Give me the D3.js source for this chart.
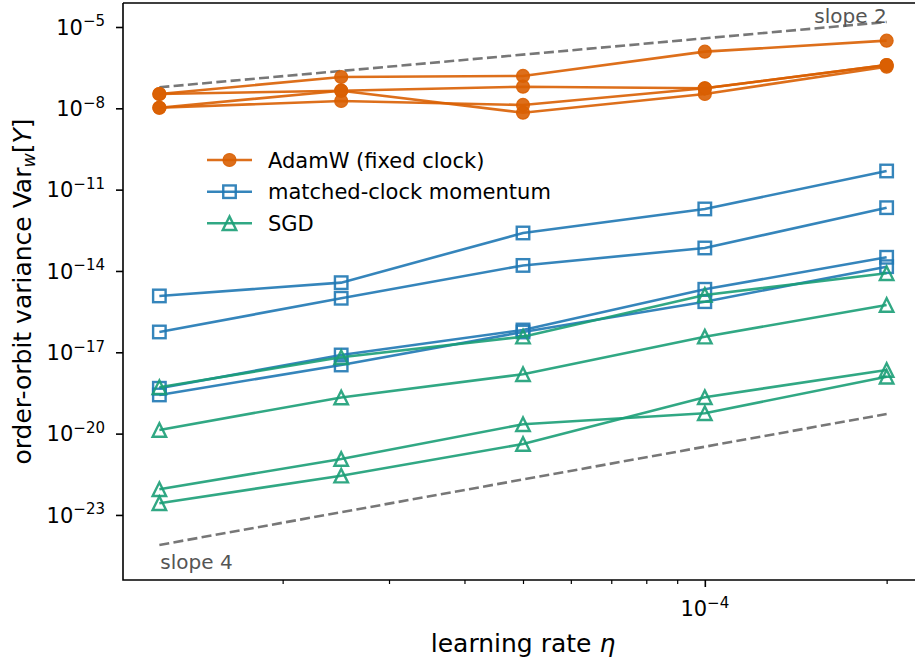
<!DOCTYPE html>
<html>
<head>
<meta charset="utf-8">
<script src="https://cdn.jsdelivr.net/npm/d3@7"></script>
<style>
  html, body { margin: 0; padding: 0; background: #fff; }
  svg { display: block; font-family: "DejaVu Sans", sans-serif; }
</style>
</head>
<body>
<svg id="chart" width="915" height="658"></svg>
<script>
// ---------------- data ----------------
const learningRates = [1.25e-5, 2.5e-5, 5e-5, 1e-4, 2e-4];

const adamwRuns = [
  [3.38e-8, 1.43e-7, 1.56e-7, 1.23e-6, 3.13e-6],
  [3.38e-8, 4.47e-8, 6.28e-8, 5.48e-8, 3.96e-7],
  [1.05e-8, 4.47e-8, 6.90e-9, 3.38e-8, 3.44e-7],
  [1.05e-8, 1.86e-8, 1.33e-8, 5.48e-8, 3.96e-7]
];
const momentumRuns = [
  [1.20e-15, 3.70e-15, 2.52e-13, 1.94e-12, 4.88e-11],
  [5.62e-17, 9.84e-16, 1.60e-14, 7.05e-14, 2.16e-12],
  [4.71e-19, 7.96e-18, 6.65e-17, 2.11e-15, 3.20e-14],
  [2.67e-19, 3.40e-18, 5.62e-17, 7.36e-16, 1.44e-14]
];
const sgdRuns = [
  [5.13e-19, 6.55e-18, 3.77e-17, 1.30e-15, 8.22e-15],
  [1.36e-20, 2.16e-19, 1.55e-18, 3.77e-17, 5.57e-16],
  [8.85e-23, 1.16e-21, 2.21e-20, 5.64e-20, 1.26e-18],
  [2.70e-23, 2.81e-22, 4.15e-21, 2.19e-19, 2.23e-18]
];

// reference guide lines (endpoints at first and last learning rate)
const slope2Ends = [5.97e-8, 1.53e-5];
const slope4Ends = [7.82e-25, 5.3e-20];
const slopeLabels = ["slope 2", "slope 4"];

const seriesNames = ["AdamW (fixed clock)", "matched-clock momentum", "SGD"];
const seriesColors = ["#d95f02", "#1f78b4", "#1b9e77"];
const seriesMarkers = ["circle", "square", "triangle"];

const yTickExps = [-5, -8, -11, -14, -17, -20, -23];
const xMajorTicks = [1e-4];
const xMinorTicks = [2e-5, 3e-5, 4e-5, 5e-5, 6e-5, 7e-5, 8e-5, 9e-5, 2e-4];

const xLabel = "learning rate ";
const yLabelMain = "order-orbit variance ";

// ---------------- layout ----------------
const svg = d3.select("#chart");
const L = 123, R = 923, T = 3, B = 580;

const lx0 = Math.log10(learningRates[0]), lx1 = Math.log10(learningRates[learningRates.length - 1]);
const pad = (lx1 - lx0) * 0.05;
const x = d3.scaleLog().domain([Math.pow(10, lx0 - pad), Math.pow(10, lx1 + pad)]).range([L, R]);
const y = d3.scaleLog().domain([Math.pow(10, -25.4), Math.pow(10, -4.115)]).range([B, T]);

// ---------------- reference lines ----------------
const lineGen = d3.line().x(d => x(d[0])).y(d => y(d[1]));
const xEnds = [learningRates[0], learningRates[learningRates.length - 1]];
[slope2Ends, slope4Ends].forEach(ends => {
  svg.append("path")
    .attr("d", lineGen(xEnds.map((e, i) => [e, ends[i]])))
    .attr("fill", "none").attr("stroke", "#777").attr("stroke-width", 2.6)
    .attr("stroke-dasharray", "10,4.3");
});
svg.append("text").attr("x", x(xEnds[1])).attr("y", y(slope2Ends[1]) + 1)
  .attr("text-anchor", "end").attr("font-size", 20).attr("fill", "#555")
  .text(slopeLabels[0]);
svg.append("text").attr("x", x(xEnds[0]) + 1).attr("y", y(slope4Ends[0]) + 24.5)
  .attr("text-anchor", "start").attr("font-size", 20).attr("fill", "#555")
  .text(slopeLabels[1]);

// ---------------- markers ----------------
function drawMarker(g, kind, cx, cy, color) {
  if (kind === "circle") {
    g.append("circle").attr("cx", cx).attr("cy", cy).attr("r", 6.5)
      .attr("fill", color).attr("fill-opacity", 0.9)
      .attr("stroke", color).attr("stroke-opacity", 0.9).attr("stroke-width", 1.2);
  } else if (kind === "square") {
    const s = 12.5;
    g.append("rect").attr("x", cx - s / 2).attr("y", cy - s / 2).attr("width", s).attr("height", s)
      .attr("fill", "none").attr("stroke", color).attr("stroke-opacity", 0.9).attr("stroke-width", 2.4);
  } else {
    const s = 13.5;
    g.append("path")
      .attr("d", `M${cx},${cy - s / 2}L${cx - s / 2},${cy + s / 2}L${cx + s / 2},${cy + s / 2}Z`)
      .attr("fill", "none").attr("stroke", color).attr("stroke-opacity", 0.9).attr("stroke-width", 2.4)
      .attr("stroke-linejoin", "miter");
  }
}

// ---------------- series ----------------
[adamwRuns, momentumRuns, sgdRuns].forEach((runs, si) => {
  const color = seriesColors[si];
  runs.forEach(run => {
    const g = svg.append("g");
    const pts = learningRates.map((lr, i) => [lr, run[i]]);
    g.append("path").attr("d", lineGen(pts)).attr("fill", "none")
      .attr("stroke", color).attr("stroke-opacity", 0.9).attr("stroke-width", 2.6);
    pts.forEach(p => drawMarker(g, seriesMarkers[si], x(p[0]), y(p[1]), color));
  });
});

// ---------------- axes ----------------
const yAxis = d3.axisLeft(y).tickValues(yTickExps.map(e => Math.pow(10, e))).tickSize(7).tickFormat("");
const yg = svg.append("g").attr("transform", `translate(${L},0)`).call(yAxis);
yg.select(".domain").remove();
yg.selectAll(".tick line").attr("stroke", "#000").attr("stroke-width", 1.6);

yTickExps.forEach(e => {
  const t = svg.append("text").attr("x", L - 18).attr("y", y(Math.pow(10, e)) + 7.8)
    .attr("text-anchor", "end").attr("font-size", 21).attr("fill", "#000");
  t.append("tspan").text("10");
  t.append("tspan").attr("font-size", 15).attr("dy", -8.5).text("\u2212" + Math.abs(e));
});

const xAxisMajor = d3.axisBottom(x).tickValues(xMajorTicks).tickSize(7).tickFormat("");
const xg = svg.append("g").attr("transform", `translate(0,${B})`).call(xAxisMajor);
xg.select(".domain").remove();
xg.selectAll(".tick line").attr("stroke", "#000").attr("stroke-width", 1.6);
const xAxisMinor = d3.axisBottom(x).tickValues(xMinorTicks).tickSize(4).tickFormat("");
const xgm = svg.append("g").attr("transform", `translate(0,${B})`).call(xAxisMinor);
xgm.select(".domain").remove();
xgm.selectAll(".tick line").attr("stroke", "#000").attr("stroke-width", 1.2);

xMajorTicks.forEach(v => {
  const t = svg.append("text").attr("x", x(v)).attr("y", 616)
    .attr("text-anchor", "middle").attr("font-size", 21).attr("fill", "#000");
  t.append("tspan").text("10");
  t.append("tspan").attr("font-size", 15).attr("dy", -8.5).text("\u2212" + Math.abs(Math.round(Math.log10(v))));
});

// spines
svg.append("path").attr("d", `M${L},${T}V${B}H${R}`).attr("fill", "none")
  .attr("stroke", "#000").attr("stroke-width", 1.6);
svg.append("path").attr("d", `M${L},${T}H${R}V${B}`).attr("fill", "none")
  .attr("stroke", "#000").attr("stroke-width", 1.6);

// axis labels
const xl = svg.append("text").attr("x", (L + R) / 2).attr("y", 651.5)
  .attr("text-anchor", "middle").attr("font-size", 25).attr("fill", "#000");
xl.append("tspan").text(xLabel);
xl.append("tspan").attr("font-style", "italic").text("\u03b7");

const yl = svg.append("text")
  .attr("transform", `translate(31,${(T + B) / 2}) rotate(-90)`)
  .attr("text-anchor", "middle").attr("font-size", 25).attr("fill", "#000");
yl.append("tspan").text(yLabelMain + "Var");
yl.append("tspan").attr("font-style", "italic").attr("font-size", 17.5).attr("dy", 4).text("w");
yl.append("tspan").attr("dy", -4).text("[");
yl.append("tspan").attr("font-style", "italic").text("Y");
yl.append("tspan").text("]");

// ---------------- legend ----------------
const legendRows = [160, 191.7, 223.3];
seriesNames.forEach((name, i) => {
  const g = svg.append("g");
  const ly = legendRows[i];
  g.append("line").attr("x1", 207).attr("x2", 252).attr("y1", ly).attr("y2", ly)
    .attr("stroke", seriesColors[i]).attr("stroke-opacity", 0.9).attr("stroke-width", 2.6);
  drawMarker(g, seriesMarkers[i], 229.5, ly, seriesColors[i]);
  g.append("text").attr("x", 268).attr("y", ly + 7.6).attr("font-size", 21)
    .attr("fill", "#000").text(name);
});
</script>
</body>
</html>
